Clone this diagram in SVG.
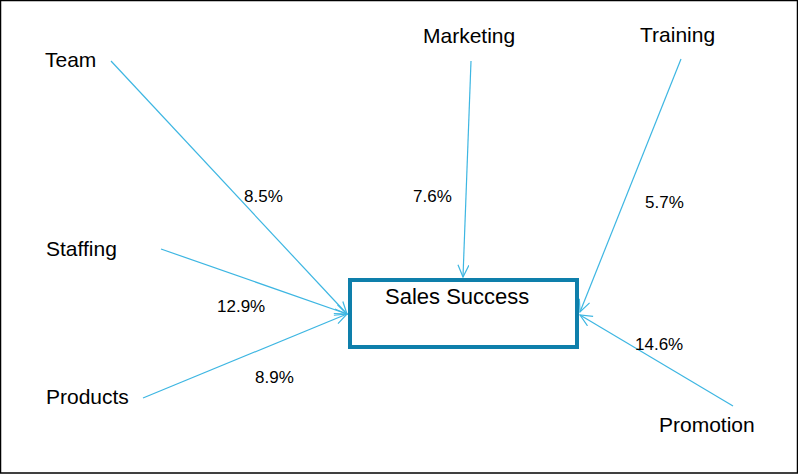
<svg xmlns="http://www.w3.org/2000/svg" width="798" height="474" viewBox="0 0 798 474">
<style>
.lbl{font-family:"Liberation Sans",Arial,sans-serif;font-size:21px;fill:#000}
.pct{font-family:"Liberation Sans",Arial,sans-serif;font-size:17px;fill:#000}
.conn{stroke:#3DB6E2;stroke-width:1.2;fill:none}
</style>
<defs>
<marker id="arr" markerWidth="16" markerHeight="14" refX="13" refY="6" orient="auto" markerUnits="userSpaceOnUse">
<path d="M1,0.5 L13,6 L1,11.5" fill="none" stroke="#3DB6E2" stroke-width="1.2"/>
</marker>
</defs>
<rect x="0.5" y="0.5" width="797" height="472.5" fill="#fff" stroke="#000" stroke-width="1.5"/>
<g id="connectors">
<line class="conn" x1="111" y1="61" x2="347" y2="314" marker-end="url(#arr)"/>
<line class="conn" x1="161" y1="249" x2="347" y2="314" marker-end="url(#arr)"/>
<line class="conn" x1="143" y1="398" x2="347" y2="314" marker-end="url(#arr)"/>
<line class="conn" x1="471" y1="61" x2="463" y2="277" marker-end="url(#arr)"/>
<line class="conn" x1="681" y1="59" x2="580" y2="312" marker-end="url(#arr)"/>
<line class="conn" x1="733" y1="406" x2="580" y2="315" marker-end="url(#arr)"/>
</g>
<g id="sales-success">
<rect x="350" y="280" width="227" height="67" fill="none" stroke="#0E7FAB" stroke-width="4"/>
<text class="lbl" x="385" y="304" style="font-size:22px">Sales Success</text>
</g>
<g id="team"><text class="lbl" x="45" y="67">Team</text></g>
<g id="marketing"><text class="lbl" x="423" y="43">Marketing</text></g>
<g id="training"><text class="lbl" x="640" y="42">Training</text></g>
<g id="staffing"><text class="lbl" x="46" y="256">Staffing</text></g>
<g id="products"><text class="lbl" x="46" y="404">Products</text></g>
<g id="promotion"><text class="lbl" x="659" y="432">Promotion</text></g>
<g id="labels">
<text class="pct" x="244" y="202">8.5%</text>
<text class="pct" x="413" y="202">7.6%</text>
<text class="pct" x="645" y="208">5.7%</text>
<text class="pct" x="217" y="312">12.9%</text>
<text class="pct" x="255" y="383">8.9%</text>
<text class="pct" x="635" y="350">14.6%</text>
</g>
</svg>
